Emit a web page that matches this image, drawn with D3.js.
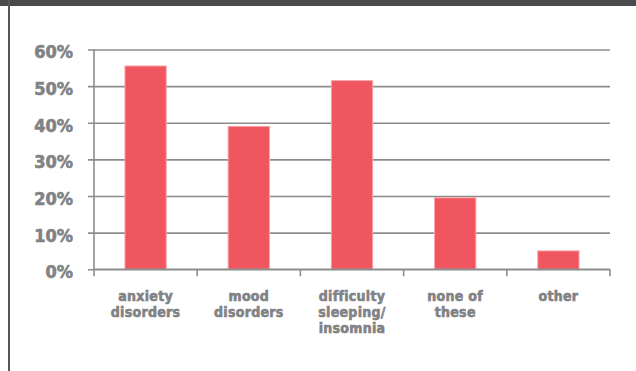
<!DOCTYPE html>
<html>
<head>
<meta charset="utf-8">
<script src="https://cdn.jsdelivr.net/npm/d3@7"></script>
<style>
  html, body { margin: 0; padding: 0; background: #fff; }
  svg { display: block; }
  .lbl { font-family: "DejaVu Sans Condensed", "DejaVu Sans", sans-serif; font-stretch: condensed; font-weight: bold;
         fill: #808285; stroke: #808285; stroke-width: 0.6; paint-order: stroke; }
</style>
</head>
<body>
<svg id="chart" width="636" height="371"></svg>
<script>
// Share of respondents by condition
const categories = ["anxiety disorders", "mood disorders", "difficulty sleeping/insomnia", "none of these", "other"];
const categoryLines = [["anxiety", "disorders"], ["mood", "disorders"], ["difficulty", "sleeping/", "insomnia"], ["none of", "these"], ["other"]];
const values = [0.555, 0.39, 0.515, 0.195, 0.05];
const yTicks = [0, 0.1, 0.2, 0.3, 0.4, 0.5, 0.6];
const yTickLabels = ["0%", "10%", "20%", "30%", "40%", "50%", "60%"];

const svg = d3.select("#chart");
const W = 636, H = 371;

// frame: dark top band and left rule
svg.append("rect").attr("x", 0).attr("y", 0).attr("width", W).attr("height", 6).attr("fill", "#4a4a4c");
svg.append("rect").attr("x", 8).attr("y", 0).attr("width", 2).attr("height", H).attr("fill", "#58585a");

const plotLeft = 94, plotRight = 610, plotTop = 49.5, plotBottom = 269.2;
const x = d3.scaleBand().domain(categories).range([plotLeft, plotRight]).padding(0);
const y = d3.scaleLinear().domain([0, 0.6]).range([plotBottom, plotTop]);

// horizontal gridlines with small left ticks
const grid = svg.append("g").attr("transform", `translate(${plotLeft},0)`)
  .call(d3.axisLeft(y).tickValues(yTicks).tickSizeInner(-(plotRight - plotLeft)).tickSizeOuter(0).tickFormat(""));
grid.select(".domain").remove();
grid.selectAll(".tick line").attr("x1", -6).attr("stroke", "#8c8c8c").attr("stroke-width", 1.6);

// y axis line
svg.append("line").attr("x1", plotLeft).attr("x2", plotLeft).attr("y1", plotTop).attr("y2", plotBottom)
  .attr("stroke", "#8c8c8c").attr("stroke-width", 1.6);

// bars
const bw = x.bandwidth() * 0.4;
svg.append("g").selectAll("rect").data(values).join("rect")
  .attr("x", (d, i) => x(categories[i]) + (x.bandwidth() - bw) / 2)
  .attr("width", bw)
  .attr("y", d => y(d))
  .attr("height", d => plotBottom - y(d))
  .attr("fill", "#f0565f")
  .attr("stroke", "#f7a4a9")
  .attr("stroke-width", 1);

// x axis with ticks at band boundaries
svg.append("line").attr("x1", plotLeft).attr("x2", plotRight).attr("y1", plotBottom).attr("y2", plotBottom)
  .attr("stroke", "#8c8c8c").attr("stroke-width", 1.6);
const bounds = categories.map(c => x(c)).concat([plotRight]);
svg.append("g").selectAll("line").data(bounds).join("line")
  .attr("x1", d => d).attr("x2", d => d).attr("y1", plotBottom).attr("y2", plotBottom + 7)
  .attr("stroke", "#8c8c8c").attr("stroke-width", 1.6);

// y tick labels
svg.append("g").selectAll("text").data(yTicks).join("text")
  .attr("class", "lbl")
  .attr("x", 73).attr("y", d => y(d) + 2.5).attr("dy", "0.36em")
  .attr("text-anchor", "end").attr("font-size", 18)
  .text((d, i) => yTickLabels[i]);

// category labels
const cat = svg.append("g").selectAll("text").data(categories).join("text")
  .attr("class", "lbl").attr("font-size", 14).attr("letter-spacing", 0.3).attr("text-anchor", "middle")
  .attr("x", d => x(d) + x.bandwidth() / 2).attr("y", 300.5);
cat.each(function(d, i) {
  d3.select(this).selectAll("tspan").data(categoryLines[i]).join("tspan")
    .attr("x", x(d) + x.bandwidth() / 2)
    .attr("dy", (t, j) => j === 0 ? 0 : 16)
    .text(t => t);
});
</script>
</body>
</html>
